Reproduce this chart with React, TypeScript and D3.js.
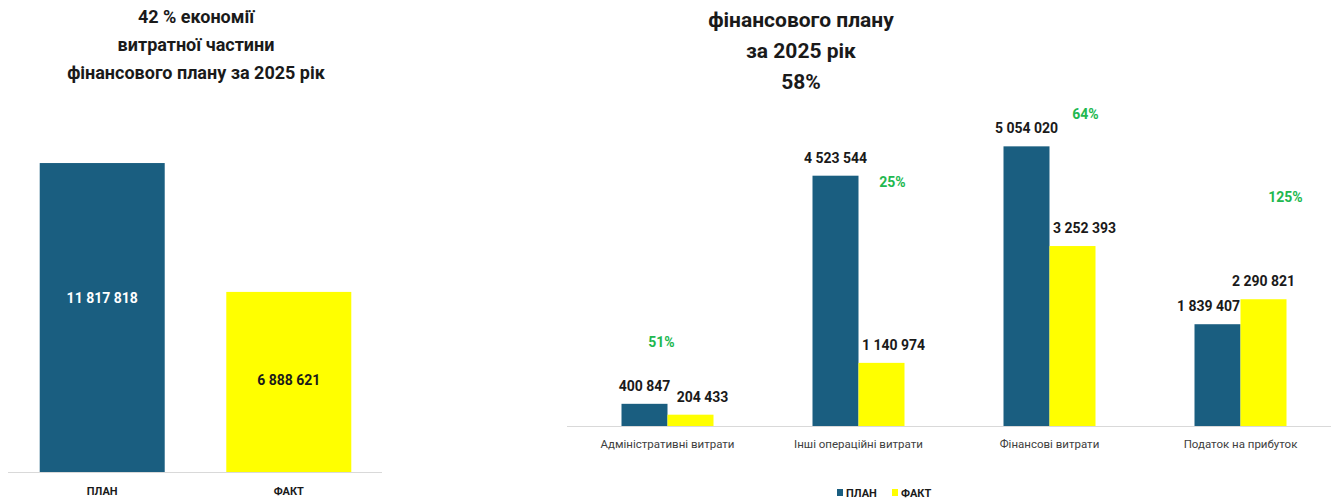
import React from "react";
import * as d3 from "d3";

const totalCategories = ["ПЛАН", "ФАКТ"];
const totalValues = [11817818, 6888621];

const categories = [
  "Адміністративні витрати",
  "Інші операційні витрати",
  "Фінансові витрати",
  "Податок на прибуток",
];
const planValues = [400847, 4523544, 5054020, 1839407];
const factValues = [204433, 1140974, 3252393, 2290821];
const pctLabels = ["51%", "25%", "64%", "125%"];

const leftTitle = ["42 % економії", "витратної частини", "фінансового плану за 2025 рік"];
const rightTitle = ["фінансового плану", "за 2025 рік", "58%"];
const seriesNames = ["ПЛАН", "ФАКТ"];

// annotation layout (style): offset of green % labels from group centre [dx, y]
const pctLayout = [
  [-6, 347],
  [34, 187],
  [36, 119],
  [45, 202],
];
// label vertical nudge for the left chart's in-bar labels (style)
const totalLabelDy = [-20, -2];

const BLUE = "#1a5e80";
const YELLOW = "#ffff00";
const GREEN = "#22b84f";
const FONT = "'Liberation Sans Narrow', 'Roboto', sans-serif";

const fmt = (v: number) => d3.format(",")(v).replace(/,/g, " ");

export default function App() {
  // left chart
  const lx = d3.scaleBand<string>().domain(totalCategories).range([8, 383]).paddingInner(0.33).paddingOuter(0.17);
  const ly = d3.scaleLinear().domain([0, 14000000]).range([472, 106]);
  const lBase = ly(0);

  // right chart
  const rx = d3.scaleBand<string>().domain(categories).range([572, 1336]).padding(0);
  const ry = d3.scaleLinear().domain([0, 6000000]).range([426, 94]);
  const rBase = ry(0);
  const barW = 46;

  return (
    <svg width={1331} height={501} style={{ position: "absolute", left: 0, top: 0, background: "#fff" }} fontFamily={FONT}>
      {/* left title */}
      {leftTitle.map((t, i) => (
        <text key={i} x={196} y={23 + i * 28} textAnchor="middle" fontSize={18} fontWeight="bold" fill="#1a1a1a">
          {t}
        </text>
      ))}
      {/* left bars */}
      {totalCategories.map((c, i) => {
        const v = totalValues[i];
        const x = lx(c)!;
        const y = ly(v);
        return (
          <g key={c}>
            <rect x={x} y={y} width={lx.bandwidth()} height={lBase - y} fill={i === 0 ? BLUE : YELLOW} />
            <text
              x={x + lx.bandwidth() / 2}
              y={(y + lBase) / 2 + 5 + totalLabelDy[i]}
              textAnchor="middle"
              fontSize={14}
              fontWeight="bold"
              fill={i === 0 ? "#ffffff" : "#1a1a1a"}
            >
              {fmt(v)}
            </text>
            <text x={x + lx.bandwidth() / 2} y={495} textAnchor="middle" fontSize={11} fontWeight="bold" fill="#1a1a1a">
              {c}
            </text>
          </g>
        );
      })}
      <line x1={8} x2={382} y1={lBase + 0.5} y2={lBase + 0.5} stroke="#d9d9d9" strokeWidth={1} />

      {/* right title */}
      {rightTitle.map((t, i) => (
        <text key={i} x={801} y={27 + i * 31} textAnchor="middle" fontSize={21} fontWeight="bold" fill="#1a1a1a">
          {t}
        </text>
      ))}

      {/* right bars */}
      {categories.map((c, i) => {
        const cx = rx(c)! + rx.bandwidth() / 2;
        const p = planValues[i];
        const f = factValues[i];
        const py = ry(p);
        const fy = ry(f);
        const factHigher = f > p;
        const pdx = factHigher ? -9 : 0;
        const fdx = factHigher ? 0 : 12;
        return (
          <g key={c}>
            <rect x={cx - barW} y={py} width={barW} height={rBase - py} fill={BLUE} />
            <rect x={cx} y={fy} width={barW} height={rBase - fy} fill={YELLOW} />
            <text x={cx - barW / 2 + pdx} y={py - 13} textAnchor="middle" fontSize={14} fontWeight="bold" fill="#1a1a1a">
              {fmt(p)}
            </text>
            <text x={cx + barW / 2 + fdx} y={fy - 13} textAnchor="middle" fontSize={14} fontWeight="bold" fill="#1a1a1a">
              {fmt(f)}
            </text>
            <text x={cx + pctLayout[i][0]} y={pctLayout[i][1]} textAnchor="middle" fontSize={14} fontWeight="bold" fill={GREEN}>
              {pctLabels[i]}
            </text>
            <text x={cx} y={448} textAnchor="middle" fontSize={11.5} fill="#404040">
              {c}
            </text>
          </g>
        );
      })}
      <line x1={567} x2={1331} y1={rBase + 0.5} y2={rBase + 0.5} stroke="#d9d9d9" strokeWidth={1} />

      {/* legend */}
      {seriesNames.map((s, i) => (
        <g key={s} transform={`translate(${837 + i * 55},0)`}>
          <rect x={0} y={489} width={6} height={7} fill={i === 0 ? BLUE : YELLOW} />
          <text x={9} y={497} fontSize={11} fontWeight="bold" fill="#1a1a1a">
            {s}
          </text>
        </g>
      ))}
    </svg>
  );
}
